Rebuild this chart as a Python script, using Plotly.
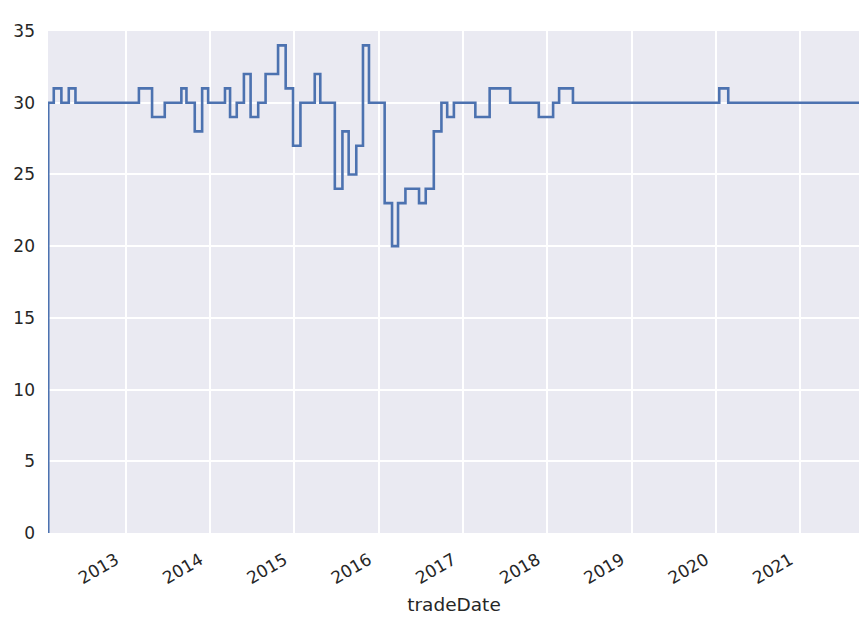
import plotly.graph_objects as go

trade_dates = [
    "2012-01-29", "2012-01-30", "2012-02-23", "2012-03-27", "2012-04-28", "2012-05-27",
    "2013-02-26", "2013-04-24", "2013-06-18", "2013-08-29", "2013-09-20", "2013-10-26",
    "2013-11-27", "2013-12-23", "2014-03-06", "2014-03-28", "2014-04-26", "2014-05-27",
    "2014-06-25", "2014-07-28", "2014-08-29", "2014-10-22", "2014-11-24", "2014-12-26",
    "2015-01-27", "2015-03-30", "2015-04-23", "2015-06-25", "2015-07-28", "2015-08-24",
    "2015-09-26", "2015-10-25", "2015-11-20", "2016-01-27", "2016-02-28", "2016-03-25",
    "2016-04-26", "2016-06-24", "2016-07-23", "2016-08-27", "2016-09-29", "2016-10-24",
    "2016-11-22", "2017-02-23", "2017-04-26", "2017-07-24", "2017-11-25", "2018-01-26",
    "2018-02-21", "2018-04-22", "2020-01-16", "2020-02-24", "2021-09-17",
]
values = [
    0, 30, 31, 30, 31, 30,
    31, 29, 30, 31, 30, 28,
    31, 30, 31, 29, 30, 32,
    29, 30, 32, 34, 31, 27,
    30, 32, 30, 24, 28, 25,
    27, 34, 30, 23, 20, 23,
    24, 23, 24, 28, 30, 29,
    30, 29, 31, 30, 29, 30,
    31, 30, 31, 30, 30,
]
year_ticks = ["2013-01-01", "2014-01-01", "2015-01-01", "2016-01-01", "2017-01-01",
              "2018-01-01", "2019-01-01", "2020-01-01", "2021-01-01"]
year_labels = ["2013", "2014", "2015", "2016", "2017", "2018", "2019", "2020", "2021"]

fig = go.Figure()
fig.add_trace(go.Scatter(
    x=trade_dates, y=values, mode="lines", line_shape="hv",
    line=dict(color="#4C72B0", width=2.6), showlegend=False,
))

font_family = "DejaVu Sans, sans-serif"
fig.update_layout(
    width=859, height=613,
    margin=dict(l=40, r=7, t=23, b=88),
    paper_bgcolor="white", plot_bgcolor="#EAEAF2",
    font=dict(family=font_family, size=17, color="#262626"),
    xaxis=dict(
        range=[trade_dates[0], trade_dates[-1]],
        tickmode="array", tickvals=year_ticks, ticktext=year_labels,
        tickangle=-30, showgrid=True, gridcolor="white", gridwidth=1.5,
        zeroline=False, showline=False, ticks="", automargin=False,
        ticklabelstandoff=13, ticklabelshift=-10,
        title=dict(text="tradeDate", font=dict(size=18.5), standoff=11),
    ),
    yaxis=dict(
        range=[0, 35], dtick=5, showgrid=True, gridcolor="white", gridwidth=1.5,
        zeroline=False, showline=False, ticks="", ticklabelstandoff=12,
        automargin=False,
    ),
)
fig.write_html("out.html")
